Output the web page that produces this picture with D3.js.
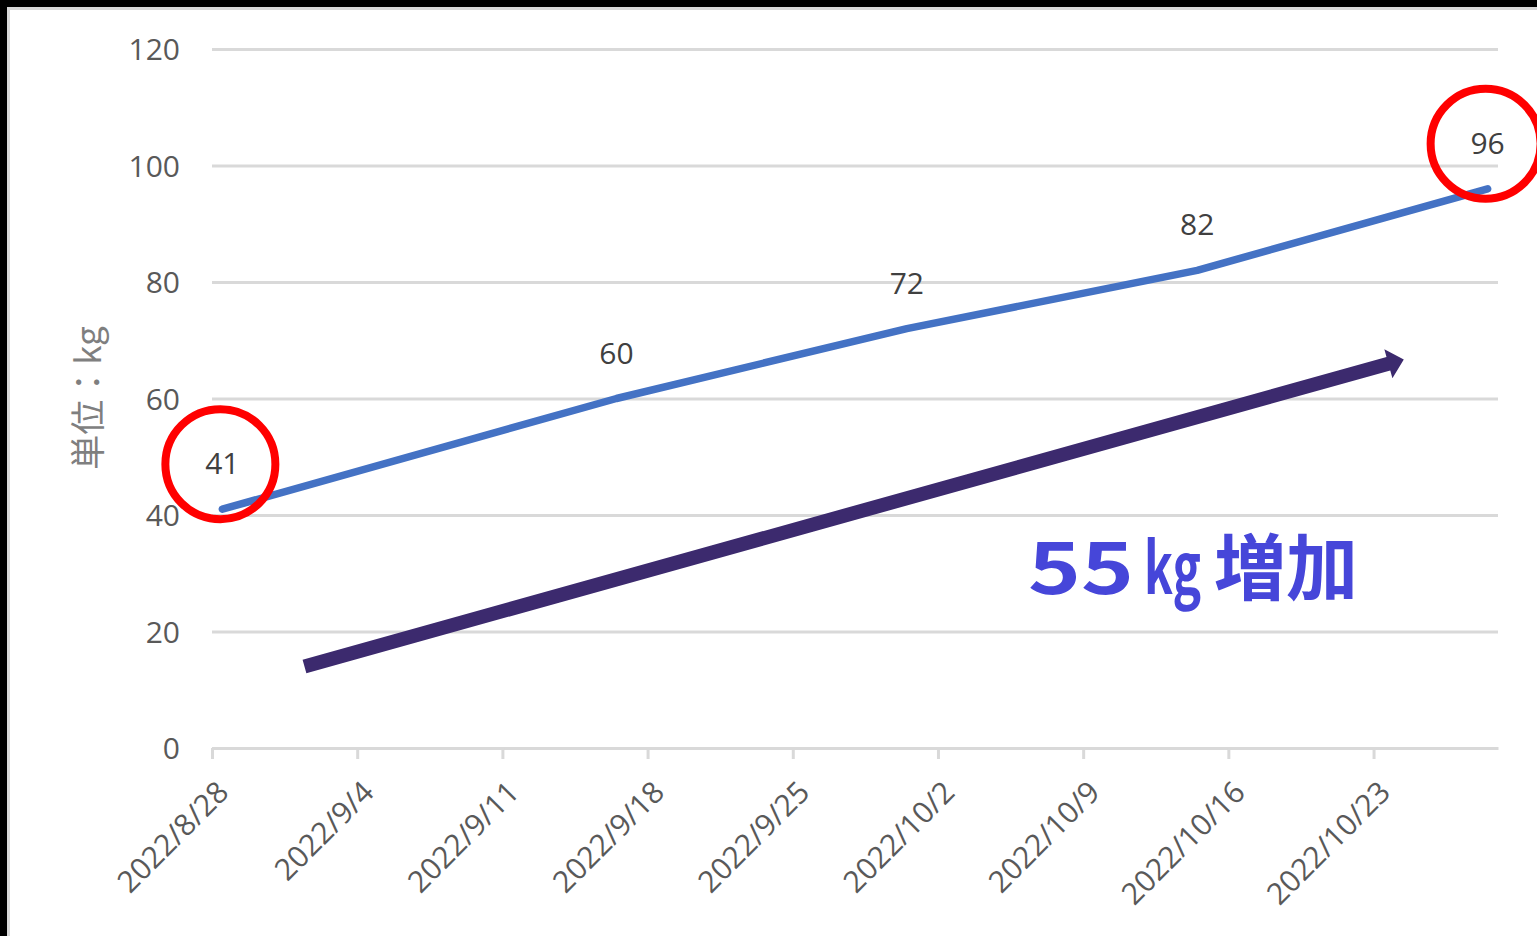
<!DOCTYPE html>
<html>
<head>
<meta charset="utf-8">
<script src="https://cdn.jsdelivr.net/npm/d3@7"></script>
<style>
  html, body { margin: 0; padding: 0; background: #fff; }
  svg { display: block; }
</style>
</head>
<body>
<svg id="chart" width="1537" height="936"></svg>
<script>
// ---- data ----
const dates = ["2022-08-28", "2022-09-16", "2022-09-30", "2022-10-14", "2022-10-28"];
const values = [41, 60, 72, 82, 96];
const yTicks = [0, 20, 40, 60, 80, 100, 120];
const xDomain = ["2022-08-28", "2022-10-29"];
const highlighted = [0, 4];           // circled data labels
const yTitle = "単位：kg";
const annoText = ["55", "kg", "増加"];
const arrowFrom = { date: "2022-09-01T11:00", value: 14 };
const arrowTo = { date: "2022-10-24T11:00", value: 66.7 };

(function () {
// ---- setup ----
const parse = s => { const [yy, mo, dd] = s.slice(0, 10).split("-").map(Number);
  const dt = new Date(yy, mo - 1, dd);
  if (s.length > 10) { const [hh, mm] = s.slice(11).split(":").map(Number); dt.setHours(hh, mm); }
  return dt; };
const pts = dates.map((d, i) => ({ date: d3.timeHour.offset(parse(d), 12), value: values[i] }));

const svg = d3.select("#chart");
const W = 1537, H = 936;
const mLeft = 212, mRight = 1498, mTop = 49, mBottom = 748;

const x = d3.scaleTime().domain(xDomain.map(parse)).range([mLeft, mRight]);
const y = d3.scaleLinear().domain([0, 120]).range([mBottom, mTop]);

// frame
svg.append("rect").attr("width", W).attr("height", H).attr("fill", "#fff");
svg.append("rect").attr("x", 8.5).attr("y", 8.5).attr("width", W).attr("height", H)
  .attr("fill", "#fff").attr("stroke", "#d9d9d9").attr("stroke-width", 3);
svg.append("rect").attr("x", 0).attr("y", 0).attr("width", W).attr("height", 7).attr("fill", "#000");
svg.append("rect").attr("x", 0).attr("y", 0).attr("width", 7).attr("height", H).attr("fill", "#000");

const font = "'Open Sans', 'Noto Sans', sans-serif";

// gridlines + y labels
const yAxis = d3.axisLeft(y).tickValues(yTicks).tickSize(-(mRight - mLeft)).tickPadding(32);
const gy = svg.append("g").attr("transform", `translate(${mLeft},0)`).call(yAxis);
gy.select(".domain").remove();
gy.selectAll(".tick line").attr("stroke", "#d9d9d9").attr("stroke-width", 3);
gy.selectAll(".tick text").attr("fill", "#595959").style("font-family", font)
  .style("font-size", "30px").attr("dy", "0.36em");

// x axis
const fmt = d => `${d.getFullYear()}/${d.getMonth() + 1}/${d.getDate()}`;
const xAxis = d3.axisBottom(x).ticks(d3.timeWeek.every(1)).tickFormat(fmt).tickSize(11).tickSizeOuter(0);
const gx = svg.append("g").attr("transform", `translate(0,${mBottom})`).call(xAxis);
gx.select(".domain").attr("stroke", "#d9d9d9").attr("stroke-width", 3);
gx.selectAll(".tick line").attr("stroke", "#d9d9d9").attr("stroke-width", 3);
gx.selectAll(".tick text").attr("fill", "#595959").style("font-family", font)
  .style("font-size", "30px").attr("text-anchor", "end")
  .attr("y", 0).attr("dy", 0)
  .attr("transform", "translate(18,46) rotate(-45)");

// y title
svg.append("text").attr("transform", "translate(101,398) rotate(-90)")
  .attr("text-anchor", "middle").attr("fill", "#7f7f7f")
  .style("font-family", "'Noto Sans CJK JP', sans-serif").style("font-size", "35px")
  .text(yTitle);

// line
svg.append("path").datum(pts)
  .attr("fill", "none").attr("stroke", "#4472c4").attr("stroke-width", 7.5)
  .attr("stroke-linecap", "round").attr("stroke-linejoin", "round")
  .attr("d", d3.line().x(d => x(d.date)).y(d => y(d.value)));

// data labels
svg.append("g").selectAll("text").data(pts).join("text")
  .attr("x", d => x(d.date)).attr("y", d => y(d.value) - 35)
  .attr("text-anchor", "middle").attr("fill", "#404040")
  .style("font-family", font).style("font-size", "30px")
  .text(d => d.value);

// highlight circles
svg.append("g").selectAll("circle").data(highlighted.map(i => pts[i])).join("circle")
  .attr("cx", d => x(d.date) - 2).attr("cy", d => y(d.value) - 45)
  .attr("r", 55).attr("fill", "none").attr("stroke", "#ff0000").attr("stroke-width", 8);

// arrow
(function () {
  const p0 = [x(parse(arrowFrom.date)), y(arrowFrom.value)];
  const p1 = [x(parse(arrowTo.date)), y(arrowTo.value)];
  const dx = p1[0] - p0[0], dy = p1[1] - p0[1], L = Math.hypot(dx, dy);
  const u = [dx / L, dy / L], n = [-u[1], u[0]];
  const hw = 7, hl = 16, hh = 15;
  const b = [p1[0] - u[0] * hl, p1[1] - u[1] * hl];
  const P = (p, k) => [p[0] + n[0] * k, p[1] + n[1] * k];
  const poly = [P(p0, hw), P(b, hw), P(b, hh), p1, P(b, -hh), P(b, -hw), P(p0, -hw)];
  svg.append("path").attr("d", "M" + poly.map(p => p.join(",")).join("L") + "Z")
    .attr("fill", "#3c2a6e");
})();

// annotation text: each piece scaled horizontally to its width in the reference
const annoFont = "'Noto Sans CJK JP', sans-serif";
const annoPos = [{ x: 1028, len: 106 }, { x: 1144, len: 57 }, { x: 1214, len: 144 }];
svg.append("g").selectAll("text").data(annoText).join("text")
  .attr("fill", "#4646d9").style("font-family", annoFont).style("font-weight", "bold")
  .style("font-size", "72px")
  .text(d => d)
  .each(function (d, i) {
    const nat = this.getComputedTextLength() || annoPos[i].len;
    const sx = annoPos[i].len / nat;
    d3.select(this).attr("transform", `translate(${annoPos[i].x},594) scale(${sx},1)`);
  });
})();
</script>
</body>
</html>
